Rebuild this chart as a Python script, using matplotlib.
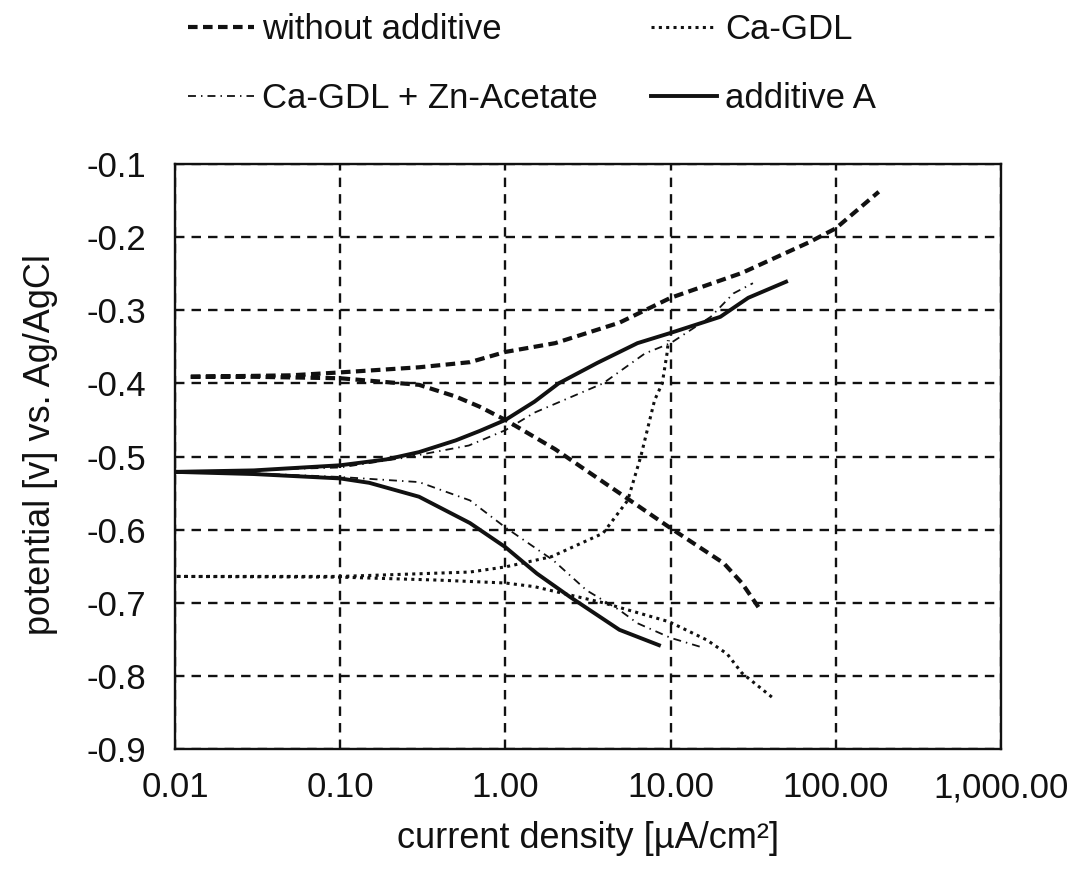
import matplotlib
matplotlib.use("Agg")
import matplotlib.pyplot as plt

plt.rcParams['font.family'] = ['Liberation Sans', 'DejaVu Sans']

# ---- data ----
# each series: cathodic branch (from its end back to Ecorr) followed by anodic branch
wo_x = [34, 30, 27, 21, 10, 4.9, 2.0, 1.0, 0.7, 0.5, 0.3, 0.1, 0.03, 0.012,
        0.05, 0.1, 0.3, 0.61, 1.0, 2.0, 4.9, 10, 27, 69, 100, 182]
wo_y = [-0.706, -0.688, -0.673, -0.646, -0.598, -0.55, -0.49, -0.45, -0.432, -0.418, -0.402, -0.393, -0.391, -0.391,
        -0.389, -0.385, -0.378, -0.371, -0.357, -0.345, -0.317, -0.283, -0.249, -0.207, -0.188, -0.138]

ca_x = [41, 27, 22, 16.6, 9.8, 3.9, 1.5, 1.0, 0.39, 0.1, 0.01,
        0.1, 0.61, 1.0, 1.9, 3.9, 5.5, 6.6, 8.0, 8.9, 9.5, 9.7]
ca_y = [-0.829, -0.796, -0.77, -0.751, -0.726, -0.70, -0.678, -0.673, -0.669, -0.665, -0.664,
        -0.664, -0.658, -0.651, -0.637, -0.605, -0.56, -0.50, -0.423, -0.40, -0.36, -0.341]

zn_x = [15, 10, 6.3, 4.9, 3.1, 1.95, 1.0, 0.61, 0.3, 0.1, 0.03, 0.012,
        0.1, 0.24, 0.6, 1.0, 1.5, 3.9, 7, 10, 17.5, 24, 31.5]
zn_y = [-0.76, -0.748, -0.728, -0.71, -0.683, -0.642, -0.597, -0.56, -0.535, -0.528, -0.523, -0.521,
        -0.515, -0.502, -0.485, -0.464, -0.44, -0.40, -0.359, -0.345, -0.309, -0.277, -0.263]

aa_x = [8.5, 4.9, 2.46, 1.55, 1.0, 0.61, 0.3, 0.15, 0.1, 0.03, 0.01,
        0.03, 0.1, 0.19, 0.3, 0.5, 0.7, 1.0, 1.5, 2.1, 3.6, 6.3, 10, 20, 29.5, 50]
aa_y = [-0.758, -0.737, -0.692, -0.66, -0.624, -0.591, -0.555, -0.536, -0.53, -0.524, -0.521,
        -0.519, -0.512, -0.504, -0.494, -0.478, -0.465, -0.45, -0.425, -0.40, -0.372, -0.345, -0.331, -0.309, -0.283, -0.261]

series_names = ["without additive", "Ca-GDL", "Ca-GDL + Zn-Acetate", "additive A"]

x_ticks = [0.01, 0.1, 1, 10, 100, 1000]
x_tick_labels = ["0.01", "0.10", "1.00", "10.00", "100.00", "1,000.00"]
y_ticks = [-0.1, -0.2, -0.3, -0.4, -0.5, -0.6, -0.7, -0.8, -0.9]
y_tick_labels = ["-0.1", "-0.2", "-0.3", "-0.4", "-0.5", "-0.6", "-0.7", "-0.8", "-0.9"]

x_label = "current density [µA/cm²]"
y_label = "potential [v] vs. Ag/AgCl"

# ---- figure ----
fig = plt.figure(figsize=(10.81, 8.75), dpi=100)
ax = fig.add_axes([175/1081, 1-749/875, (1001-175)/1081, (749-164)/875])

ink = '#111111'
l_wo, = ax.plot(wo_x, wo_y, color=ink, lw=3.0, linestyle=(0, (2.3, 1.3)), label=series_names[0])
l_ca, = ax.plot(ca_x, ca_y, color=ink, lw=2.2, linestyle=(0, (1.0, 1.4)), label=series_names[1])
l_zn, = ax.plot(zn_x, zn_y, color=ink, lw=1.3, linestyle=(0, (4.4, 2.8, 0.8, 2.8)), label=series_names[2])
l_aa, = ax.plot(aa_x, aa_y, color=ink, lw=2.8, linestyle='-', label=series_names[3])

ax.set_xscale('log')
ax.set_xlim(0.01, 1000)
ax.set_ylim(-0.9, -0.1)
ax.set_xticks(x_ticks)
ax.set_xticklabels(x_tick_labels)
ax.set_yticks(y_ticks)
ax.set_yticklabels(y_tick_labels)
ax.minorticks_off()
ax.tick_params(axis='both', length=0, labelsize=25, colors=ink)
ax.tick_params(axis='x', pad=16)
ax.tick_params(axis='y', pad=21)

ax.grid(True, which='major', color=ink, lw=1.7, linestyle=(0, (4, 3.0)))
ax.set_axisbelow(True)
for s in ax.spines.values():
    s.set_color(ink)
    s.set_linewidth(1.7)

ax.set_xlabel(x_label, fontsize=26, color=ink, labelpad=12)
ax.set_ylabel(y_label, fontsize=26, color=ink, labelpad=20)
ax.yaxis.label.set_y(0.52)

leg = fig.legend(handles=[l_wo, l_zn, l_ca, l_aa], loc='center left',
                 bbox_to_anchor=(188/1081, 1-64/875), ncol=2, frameon=False,
                 fontsize=25, handlelength=1.9, handletextpad=0.22,
                 columnspacing=1.55, labelspacing=1.05, borderpad=0, borderaxespad=0)
for t in leg.get_texts():
    t.set_color(ink)

fig.savefig("out.png", dpi=100, facecolor='white')
